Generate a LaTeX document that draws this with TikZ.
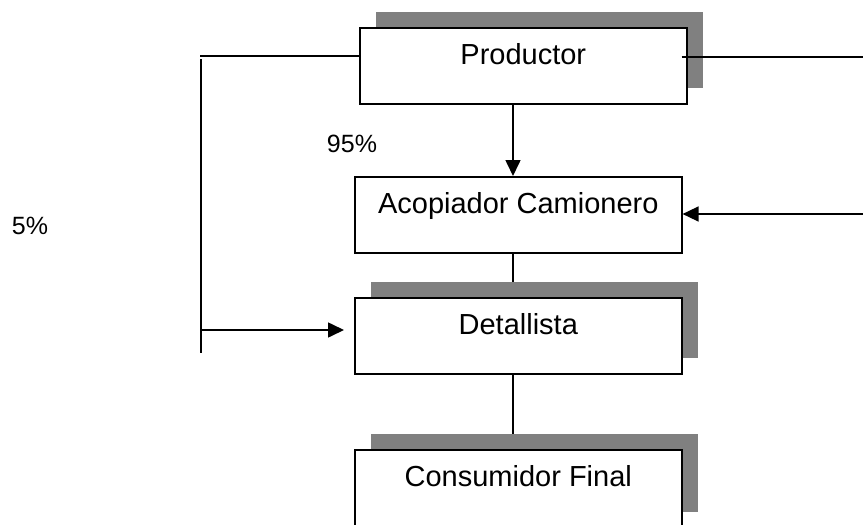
\documentclass[tikz,border=0pt]{standalone}
\usepackage{fontspec}
\setmainfont{Liberation Sans}
\usepackage{tikz}
\usetikzlibrary{arrows.meta}
\usetikzlibrary{positioning}
\usetikzlibrary{shadows}
\usetikzlibrary{backgrounds}
\definecolor{shadowgray}{RGB}{128,128,128}
\tikzset{
    agent/.style={draw=black, fill=white, line width=1.6pt, inner sep=0pt,
        minimum width=327pt, text height=37pt, text depth=39pt,
        font=\fontsize{29}{34}\selectfont, anchor=north west},
    agentshadow/.style={agent, drop shadow={shadow xshift=16pt, shadow yshift=16pt,
        fill=shadowgray, opacity=1}},
    flow/.style={draw=black, line width=1.6pt, -{Triangle[length=16pt,width=15pt]}},
    flownoarrow/.style={draw=black, line width=1.6pt},
    share/.style={font=\fontsize{25}{30}\selectfont, anchor=base},
}
\begin{document}
\begin{tikzpicture}[x=1pt, y=-1pt]
	\useasboundingbox (0,0) rectangle (863,525);
	% agentes de la cadena
	\node[agentshadow] (Productor) at (359,27) {Productor};
	\node[agent] (Acopiador) at (354,176) {Acopiador Camionero};
	\node[agentshadow] (Detallista) at (354,297) {Detallista};
	\node[agentshadow, text depth=41pt] (Consumidor) at (354,449) {Consumidor Final};
	%
	\node[share] (p95) at (352,152) {95\%};
	\node[share] (p5) at (30,234) {5\%};
	%
	\coordinate (axis) at (513,0);
	\coordinate (out left) at (200,56);
	\coordinate (left top) at (201,59);
	\coordinate (left bot) at (201,353);
	\coordinate (split) at (201,330);
	\coordinate (out right) at (863,57);
	\coordinate (in right) at (863,214);
	\coordinate (p out) at ([xshift=-6pt]Productor.east);
	\coordinate (d in) at ([xshift=-10pt]Detallista.west);
	%
	\draw[flownoarrow] (out left) -- (Productor.west |- out left);
	\draw[flownoarrow] (left top) -- (left bot);
	\draw[flow] (split) -- (d in |- split);
	\draw[flownoarrow] (p out |- out right) -- (out right);
	\draw[flow] (in right) -- (Acopiador.east |- in right);
	\draw[flow] (Productor.south -| axis) -- (Acopiador.north -| axis);
	%
	\begin{scope}[on background layer]
		\draw[flownoarrow] (Acopiador.south -| axis) -- (Detallista.north -| axis);
		\draw[flownoarrow] (Detallista.south -| axis) -- (Consumidor.north -| axis);
	\end{scope}
\end{tikzpicture}
\end{document}
